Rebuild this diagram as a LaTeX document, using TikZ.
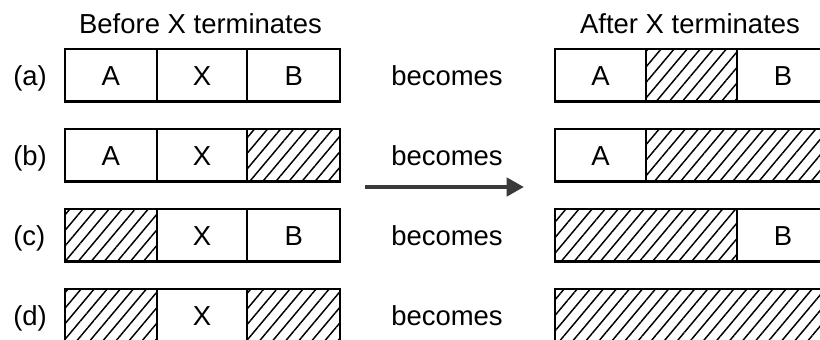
\documentclass[tikz,border=0pt]{standalone}
\usepackage{fontspec}
\setmainfont{Liberation Sans}
\usetikzlibrary{patterns.meta,arrows.meta}
\definecolor{arrowgray}{RGB}{58,58,58}
\begin{document}
\begin{tikzpicture}[x=0.75pt,y=-0.75pt,
  box/.style={draw=black,line width=1.6pt},
  divider/.style={draw=black,line width=1.6pt},
  hatch/.style={pattern={Lines[angle=50,distance=7.5pt,line width=1.1pt]}},
  txt/.style={font=\fontsize{20.6}{24}\selectfont,inner sep=0pt},
  arr/.style={draw=arrowgray,line width=3.6pt,-{Triangle[length=13pt,width=13.5pt]}}
]
\useasboundingbox (0,0) rectangle (820,339);
\clip (0,0) rectangle (820,339);

% titles
\node[txt,anchor=base] (tb) at (200.5,33) {Before X terminates};
\node[txt,anchor=base] (tf) at (690,33) {After X terminates};

% ---- hatched regions (left) ----
\fill[hatch] (247.3,129) rectangle (340,181.5);   % (b) right
\fill[hatch] (65,209) rectangle (156.7,261.5);    % (c) left
\fill[hatch] (65,289) rectangle (156.7,341.5);    % (d) left
\fill[hatch] (247.3,289) rectangle (340,341.5);   % (d) right
% ---- hatched regions (right) ----
\fill[hatch] (646,49) rectangle (737,101.5);      % (a) middle
\fill[hatch] (646,129) rectangle (830,181.5);     % (b)
\fill[hatch] (555,209) rectangle (737,261.5);     % (c)
\fill[hatch] (555,289) rectangle (830,341.5);     % (d)

% ---- left boxes ----
\foreach \t in {49,129,209,289}{
  \draw[box] (65,\t) rectangle (340,\t+52.5);
  \draw[divider] (156.7,\t) -- (156.7,\t+52.5);
  \draw[divider] (247.3,\t) -- (247.3,\t+52.5);
}
% ---- right boxes ----
\foreach \t in {49,129,209,289}{
  \draw[box] (555,\t) rectangle (828.5,\t+52.5);
}
\draw[divider] (646,49) -- (646,101.5);
\draw[divider] (737,49) -- (737,101.5);
\draw[divider] (646,129) -- (646,181.5);
\draw[divider] (737,209) -- (737,261.5);

% row labels
\node[txt,anchor=base west] (la) at (13,85) {(a)};
\node[txt,anchor=base west] (lb) at (13,165) {(b)};
\node[txt,anchor=base west] (lc) at (13,245) {(c)};
\node[txt,anchor=base west] (ld) at (13,325) {(d)};

% left cell texts
\node[txt,anchor=base] (a1) at (110.8,85) {A};
\node[txt,anchor=base] (a2) at (202,85) {X};
\node[txt,anchor=base] (a3) at (293.7,85) {B};
\node[txt,anchor=base] (b1) at (110.8,165) {A};
\node[txt,anchor=base] (b2) at (202,165) {X};
\node[txt,anchor=base] (c2) at (202,245) {X};
\node[txt,anchor=base] (c3) at (293.7,245) {B};
\node[txt,anchor=base] (d2) at (202,325) {X};

% becomes
\node[txt,anchor=base] (ba) at (447,85) {becomes};
\node[txt,anchor=base] (bb) at (447,165) {becomes};
\node[txt,anchor=base] (bc) at (447,245) {becomes};
\node[txt,anchor=base] (bd) at (447,325) {becomes};

% right cell texts
\node[txt,anchor=base] (ra1) at (600.5,85) {A};
\node[txt,anchor=base] (ra3) at (783,85) {B};
\node[txt,anchor=base] (rb1) at (600.5,165) {A};
\node[txt,anchor=base] (rc3) at (783,245) {B};

% arrow
\coordinate (as) at (365,187);
\coordinate (ae) at (524,187);
\draw[arr] (as) -- (ae);
\end{tikzpicture}
\end{document}
